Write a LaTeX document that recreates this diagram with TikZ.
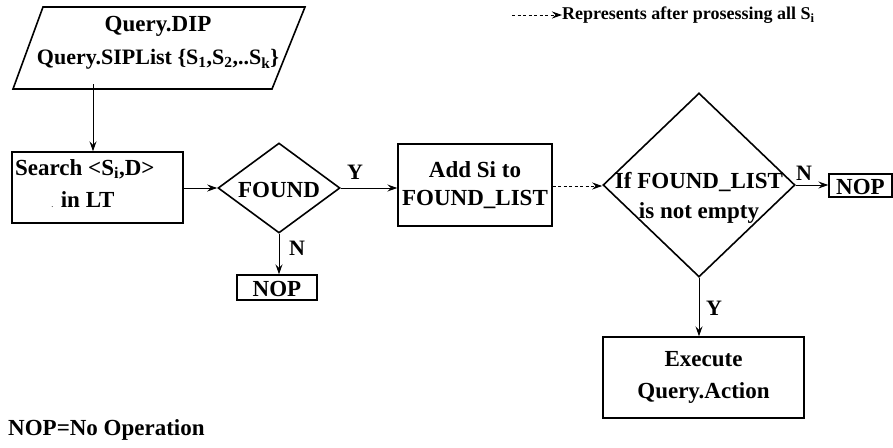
\documentclass[tikz,border=0pt]{standalone}
\usepackage{fontspec}
\setmainfont{Liberation Serif}
\usetikzlibrary{shapes.geometric,arrows.meta}
\tikzset{
  txt/.style={font=\bfseries\fontsize{23}{28}\selectfont, inner sep=0pt, align=center},
  box/.style={draw, line width=1.4pt, rectangle, inner sep=0pt},
  dia/.style={draw, line width=1.6pt, diamond, inner sep=0pt},
  arr/.style={line width=1pt, -{Stealth[length=10pt,width=7pt,inset=3.5pt]}},
  darr/.style={arr, dash pattern=on 3pt off 2.5pt},
  lbl/.style={font=\bfseries\fontsize{22}{24}\selectfont, inner sep=0pt}
}
\begin{document}
\begin{tikzpicture}[x=1pt,y=-1pt]
\useasboundingbox (0,0) rectangle (893,447);

% input parallelogram
\draw[line width=1.6pt] (43,7) -- (305,7) -- (272,89) -- (13,89) -- cycle;
\node[txt, minimum height=82, minimum width=230, font=\bfseries\fontsize{23}{33}\selectfont] (input) at (158,43)
  {Query.DIP\\{\fontsize{22}{33}\selectfont Query.SIPList \{S\textsubscript{1},S\textsubscript{2},..S\textsubscript{k}\}}};

% search step
\node[box, minimum width=171, minimum height=71] (search) at (97.5,187.5) {};
\node[txt, anchor=west] (searchA) at (15,169) {Search <S\textsubscript{i},D>};
\node[txt] (searchB) at (83,200) {{\fontsize{6}{6}\selectfont.} in LT};

% FOUND decision
\node[dia, minimum width=122, minimum height=90] (found) at (279,188) {};
\node[txt] (foundt) at (279,190) {FOUND};

% not found
\node[box, minimum width=80, minimum height=25] (nopA) at (277,287.5) {};
\node[txt] (nopAt) at (277,289) {NOP};

% add to list
\node[box, minimum width=154, minimum height=82, txt, draw, line width=1.4pt] (add) at (475,185)
  {Add Si to\\FOUND\_LIST};

% list check decision
\node[dia, minimum width=192, minimum height=184] (check) at (699,185) {};
\node[txt, font=\bfseries\fontsize{23}{30}\selectfont] (checkt) at (699,198) {If FOUND\_LIST\\is not empty};

\node[box, minimum width=63, minimum height=23] (nopB) at (860.5,185.5) {};
\node[txt] (nopBt) at (860.5,187) {NOP};

% action
\node[box, txt, draw, line width=1.4pt, minimum width=201, minimum height=81,
  font=\bfseries\fontsize{23}{32}\selectfont] (exec) at (703.5,377.5) {Execute\\Query.Action};

% connectors
\draw[arr] (input.south -| 93,0) -- (search.north -| 93,0);
\draw[arr] (search.east |- found.west) -- (found.west);
\draw[arr] (found.east) -- (found.east -| add.west);
\draw[arr] (found.south) -- (found.south |- nopA.north);
\draw[darr] (add.east |- 0,186) -- (check.west |- 0,186);
\draw[arr] (check.east) -- (check.east -| nopB.west);
\draw[arr] (check.south) -- (check.south |- exec.north);

% branch labels
\node[lbl] (y1) at (355,172) {Y};
\node[lbl] (n1) at (297,248) {N};
\node[lbl] (n2) at (804,173) {N};
\node[lbl] (y2) at (714,308) {Y};

% legend
\coordinate (legA) at (512,15);
\coordinate (legB) at (562,15);
\draw[darr, line width=0.9pt] (legA) -- (legB);
\node[anchor=west, inner sep=0pt, font=\bfseries\fontsize{18}{20}\selectfont] (legt) at (legB)
  {Represents after prosessing all S\textsubscript{i}};

\node[anchor=west, inner sep=0pt, font=\bfseries\fontsize{23}{24}\selectfont] (note) at (8,430) {NOP=No Operation};
\end{tikzpicture}
\end{document}
